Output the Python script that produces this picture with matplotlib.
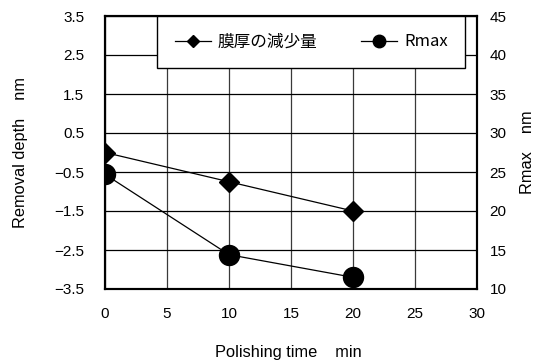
import matplotlib
matplotlib.use("Agg")
import matplotlib.pyplot as plt
from matplotlib.lines import Line2D

# Polishing time (min)
time_min = [0, 10, 20]
# Film thickness reduction (nm), left axis
thickness_loss = [0.0, -0.75, -1.5]
# Rmax roughness (nm), right axis
rmax = [24.7, 14.4, 11.5]

x_ticks = [0, 5, 10, 15, 20, 25, 30]
left_ticks = [-3.5, -2.5, -1.5, -0.5, 0.5, 1.5, 2.5, 3.5]
right_ticks = [10, 15, 20, 25, 30, 35, 40, 45]

legend_labels = ["膜厚の減少量", "Rmax"]

latin = "Liberation Sans"
cjk = ["Noto Sans CJK JP", "Liberation Sans"]

fig = plt.figure(figsize=(5.36, 3.62), dpi=100)
ax = fig.add_axes([105 / 536, 73 / 362, 372 / 536, 273 / 362])
ax2 = ax.twinx()

ax.set_xlim(0, 30)
ax.set_ylim(-3.5, 3.5)
ax2.set_ylim(10, 45)

ax.set_xticks(x_ticks)
ax.set_yticks(left_ticks)
ax2.set_yticks(right_ticks)
ax.set_yticklabels([f"{v:.1f}".replace("-", "\u2212") for v in left_ticks])

for lab in ax.get_xticklabels() + ax.get_yticklabels() + ax2.get_yticklabels():
    lab.set_fontfamily(latin)
    lab.set_fontsize(11)

ax.tick_params(axis="x", length=0, pad=13)
ax.tick_params(axis="y", length=0, pad=15)
ax2.tick_params(axis="y", length=0, pad=9)

ax.xaxis.grid(True, color="#3a3a3a", linewidth=0.9)
ax.yaxis.grid(True, color="black", linewidth=0.9)
ax.set_axisbelow(True)

for a in (ax, ax2):
    for s in a.spines.values():
        s.set_linewidth(1.5)
        s.set_color("black")

ax.plot(time_min, thickness_loss, color="black", linewidth=0.9,
        marker="D", markersize=9.7, markerfacecolor="black",
        markeredgecolor="black", zorder=3)
ax2.plot(time_min, rmax, color="black", linewidth=0.9,
         marker="o", markersize=14.4, markerfacecolor="black",
         markeredgecolor="black", zorder=3)

handles = [
    Line2D([], [], color="black", linewidth=0.9, marker="D", markersize=6.5),
    Line2D([], [], color="black", linewidth=0.9, marker="o", markersize=9),
]
leg = ax2.legend(handles, legend_labels, ncol=2, mode="expand",
                 loc="upper center", bbox_to_anchor=(0.14, 0.0, 0.828, 1.0),
                 prop={"family": cjk, "size": 12}, frameon=True,
                 fancybox=False, edgecolor="black", framealpha=1,
                 handlelength=2.2, handletextpad=0.4, borderaxespad=0,
                 borderpad=1.05, columnspacing=1.0)
leg.get_frame().set_linewidth(1.0)

fig.text(21 / 536, 1 - 152 / 362, "Removal depth    nm", rotation=90,
         ha="center", va="center", family=latin, fontsize=11.8)
fig.text(527 / 536, 1 - 152 / 362, "Rmax    nm", rotation=90,
         ha="center", va="center", family=latin, fontsize=11.8)
fig.text(288 / 536, 1 - 352 / 362, "Polishing time    min",
         ha="center", va="center", family=latin, fontsize=11.8)

fig.savefig("out.png", dpi=100)
